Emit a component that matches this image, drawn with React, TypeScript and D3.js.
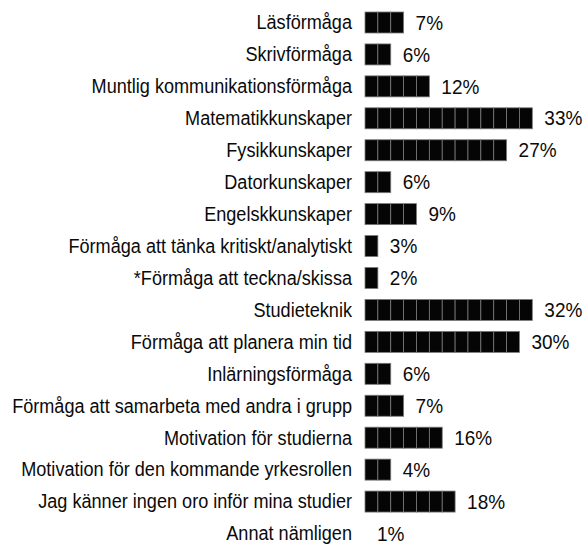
import React from "react";
import * as d3 from "d3";

const categories = [
  "Läsförmåga",
  "Skrivförmåga",
  "Muntlig kommunikationsförmåga",
  "Matematikkunskaper",
  "Fysikkunskaper",
  "Datorkunskaper",
  "Engelskkunskaper",
  "Förmåga att tänka kritiskt/analytiskt",
  "*Förmåga att teckna/skissa",
  "Studieteknik",
  "Förmåga att planera min tid",
  "Inlärningsförmåga",
  "Förmåga att samarbeta med andra i grupp",
  "Motivation för studierna",
  "Motivation för den kommande yrkesrollen",
  "Jag känner ingen oro inför mina studier",
  "Annat nämligen",
];

const values = [7, 6, 12, 33, 27, 6, 9, 3, 2, 32, 30, 6, 7, 16, 4, 18, 1];

const blockUnit = 2.5; // each block represents 2.5 %

export default function App() {
  const W = 584;
  const H = 544;
  const x = d3.scaleLinear().domain([0, 35]).range([365, 545.2]);
  const y = d3.scalePoint<string>().domain(categories).range([22.5, 533.5]);
  const barH = 21;
  const font = "'Liberation Sans', Arial, sans-serif";
  const fs = 20;

  return (
    <div style={{ position: "absolute", left: 0, top: 0 }}>
      <svg width={W} height={H} style={{ display: "block", background: "#fff" }}>
        {categories.map((c, i) => {
          const v = values[i];
          const n = Math.round(v / blockUnit);
          const cy = y(c) as number;
          const blocks = d3.range(n);
          return (
            <g key={c}>
              <text
                transform={`translate(352,${cy}) scale(0.905,1)`}
                textAnchor="end"
                dominantBaseline="central"
                fontFamily={font}
                fontSize={fs}
                fill="#0a0a0a"
              >
                {c}
              </text>
              {blocks.map((b) => (
                <rect
                  key={b}
                  x={x(b * blockUnit)}
                  y={cy - barH / 2}
                  width={x((b + 1) * blockUnit) - x(b * blockUnit)}
                  height={barH}
                  fill="#050505"
                  stroke="#7a7a7a"
                  strokeWidth={0.8}
                />
              ))}
              <text
                transform={`translate(${x(n * blockUnit) + 12},${cy}) scale(0.95,1)`}
                dominantBaseline="central"
                fontFamily={font}
                fontSize={fs}
                fill="#0a0a0a"
              >
                {v}%
              </text>
            </g>
          );
        })}
      </svg>
    </div>
  );
}
